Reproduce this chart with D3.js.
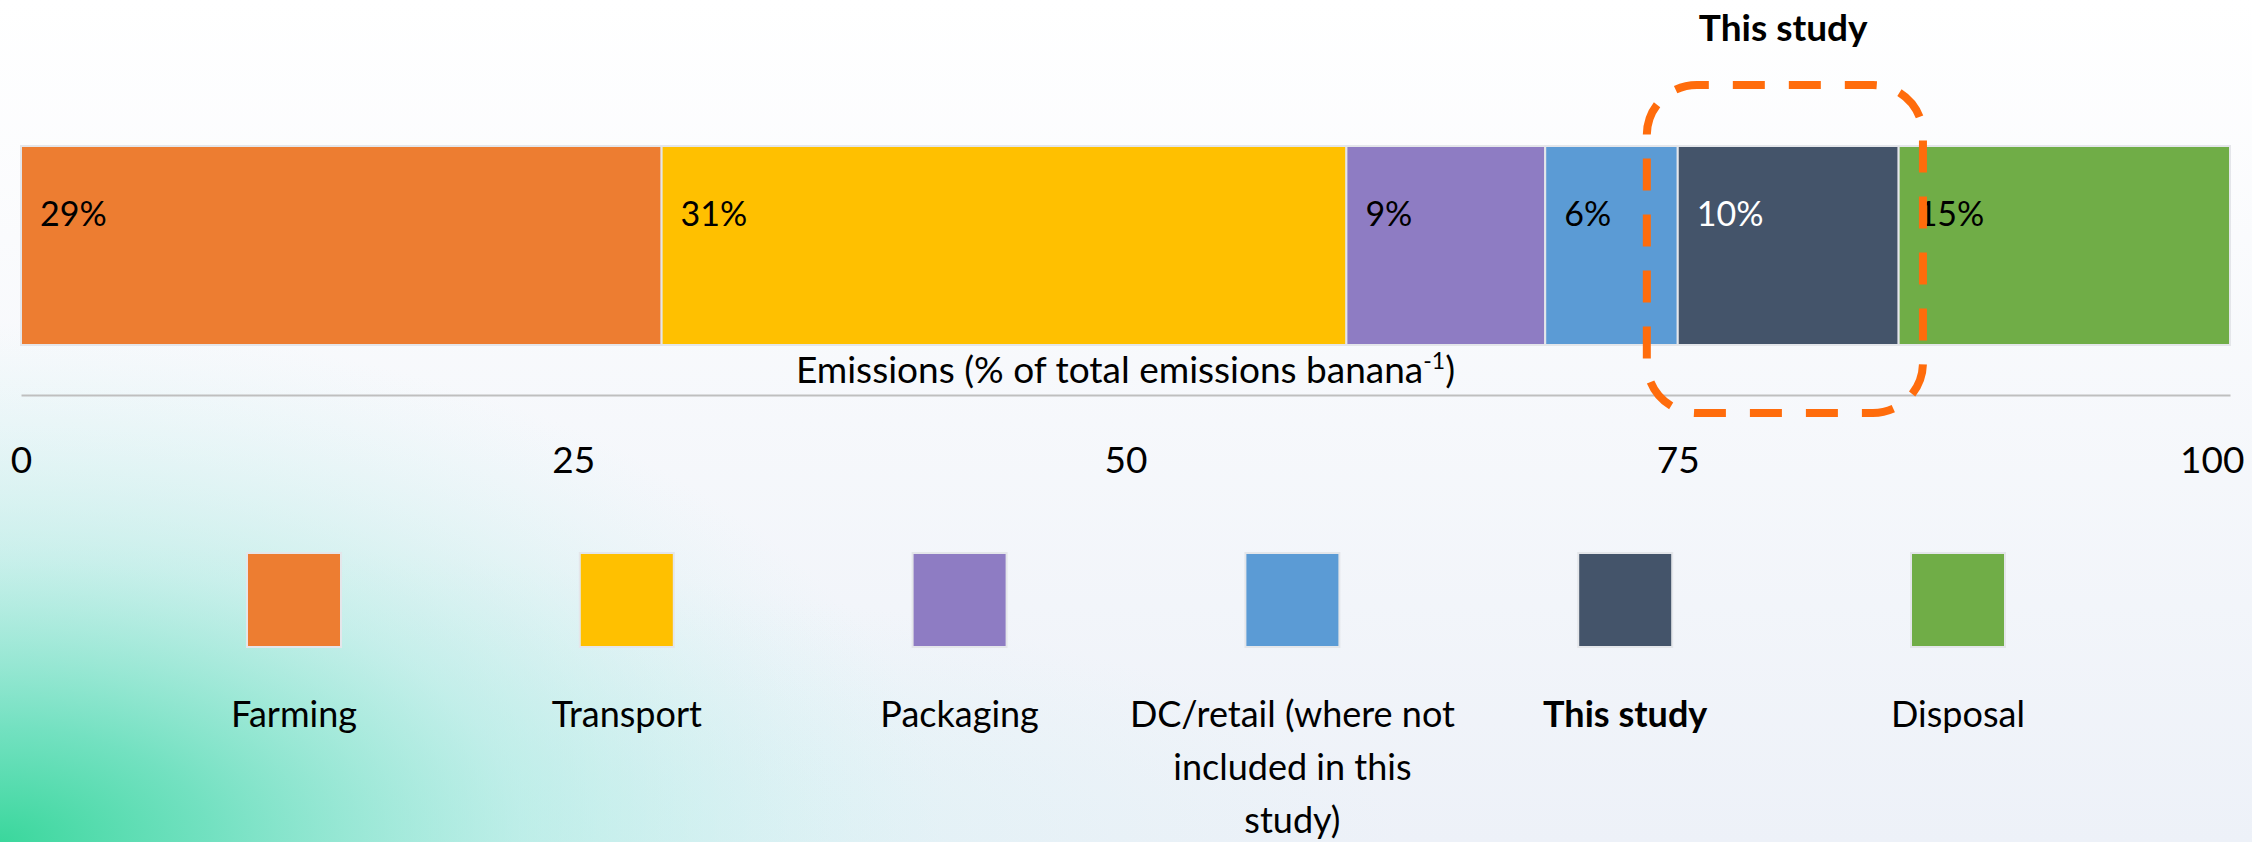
<!DOCTYPE html>
<meta charset="utf-8">
<script src="https://d3js.org/d3.v7.min.js"></script>
<style>
  body { margin: 0; background: #fff; }
  svg text { font-family: 'Lato', 'Open Sans', sans-serif; fill: #000; }
</style>
<body>
<div id="chart"></div>
<script>

// data
var categories = ["Farming", "Transport", "Packaging", "DC/retail", "This study", "Disposal"];
var shares = [29, 31, 9, 6, 10, 15];
var colors = ["#ED7D31", "#FFC000", "#8E7CC3", "#5B9BD5", "#44546A", "#70AD47"];
var labelColors = ["#000", "#000", "#000", "#000", "#fff", "#000"];
var legendLines = [["Farming"], ["Transport"], ["Packaging"],
  ["DC/retail (where not", "included in this", "study)"], ["This study"], ["Disposal"]];
var tickValues = [0, 25, 50, 75, 100];
var studyBox = [73.6, 86.1];   // dashed highlight, in axis units

var W = 2252, H = 842;

var svg = d3.select("#chart").append("svg")
    .attr("width", W)
    .attr("height", H);

// background: pale wash with a green glow in the bottom-left corner
var defs = svg.append("defs");
var lg = defs.append("linearGradient").attr("id", "bg").attr("x1", 0).attr("y1", 0).attr("x2", 0).attr("y2", 1);
lg.append("stop").attr("offset", "0%").attr("stop-color", "#ffffff");
lg.append("stop").attr("offset", "100%").attr("stop-color", "#edf1f8");
var rg = defs.append("radialGradient").attr("id", "glow");
rg.append("stop").attr("offset", "0%").attr("stop-color", "#3ad79c").attr("stop-opacity", 1);
rg.append("stop").attr("offset", "22%").attr("stop-color", "#68dfbb").attr("stop-opacity", 0.9);
rg.append("stop").attr("offset", "55%").attr("stop-color", "#a8ebdf").attr("stop-opacity", 0.55);
rg.append("stop").attr("offset", "100%").attr("stop-color", "#d2f2f3").attr("stop-opacity", 0);
var rg2 = defs.append("radialGradient").attr("id", "glow2");
rg2.append("stop").attr("offset", "0%").attr("stop-color", "#bff0ee").attr("stop-opacity", 0.95);
rg2.append("stop").attr("offset", "100%").attr("stop-color", "#d8f2f4").attr("stop-opacity", 0);

svg.append("rect").attr("width", W).attr("height", H).attr("fill", "url(#bg)");
svg.append("rect").attr("x", -1400).attr("y", H - 300).attr("width", 2800).attr("height", 600).attr("fill", "url(#glow2)");
svg.append("rect").attr("x", -950).attr("y", H - 520).attr("width", 1900).attr("height", 1040).attr("fill", "url(#glow)");

// scales
var x = d3.scaleLinear().domain([0, 100]).range([21, 2230]);
var barTop = 146, barH = 199;

var starts = d3.cumsum([0].concat(shares)).slice(0, shares.length);
var segs = categories.map(function(c, i) {
  return {name: c, v: shares[i], x0: starts[i], color: colors[i], lab: labelColors[i]};
});

// stacked bar
svg.selectAll("rect.seg")
  .data(segs)
  .enter().append("rect")
    .attr("class", "seg")
    .attr("x", function(d) { return x(d.x0); })
    .attr("y", barTop)
    .attr("width", function(d) { return x(d.x0 + d.v) - x(d.x0); })
    .attr("height", barH)
    .attr("fill", function(d) { return d.color; })
    .attr("stroke", "#e4e6ea")
    .attr("stroke-width", 2);

svg.selectAll("text.val")
  .data(segs)
  .enter().append("text")
    .attr("class", "val")
    .attr("x", function(d) { return x(d.x0) + 19; })
    .attr("y", barTop + 80)
    .style("font-size", "34px")
    .style("fill", function(d) { return d.lab; })
    .text(function(d) { return d.v + "%"; });

// axis title
var t = svg.append("text")
    .attr("x", (x(0) + x(100)) / 2)
    .attr("y", 383)
    .attr("text-anchor", "middle")
    .style("font-size", "37px");
t.append("tspan").text("Emissions (% of total emissions banana");
t.append("tspan").attr("dy", -14).style("font-size", "23px").text("-1");
t.append("tspan").attr("dy", 14).text(")");

// axis
var axis = svg.append("g")
    .attr("transform", "translate(0,395)")
    .call(d3.axisBottom(x).tickValues(tickValues).tickSize(0).tickPadding(52));
axis.select(".domain").attr("stroke", "#bfbfbf").attr("stroke-width", 2);
axis.selectAll("text")
    .style("font-size", "37px")
    .style("font-family", "Lato, 'Open Sans', sans-serif")
    .attr("fill", "#000");
axis.selectAll(".tick").filter(function(d) { return d === 100; })
    .select("text").attr("text-anchor", "end").attr("dx", 14);

// dashed highlight around "This study"
svg.append("rect")
    .attr("x", x(studyBox[0]))
    .attr("y", 85)
    .attr("width", x(studyBox[1]) - x(studyBox[0]))
    .attr("height", 328)
    .attr("rx", 50)
    .attr("fill", "none")
    .attr("stroke", "#ff6c0c")
    .attr("stroke-width", 8)
    .attr("stroke-dasharray", "32 24")
    .attr("stroke-dashoffset", 20);

svg.append("text")
    .attr("x", x(starts[4] + shares[4] / 2) - 5)
    .attr("y", 41)
    .attr("text-anchor", "middle")
    .style("font-size", "37px")
    .style("font-weight", "bold")
    .text("This study");

// legend
var lx = d3.scalePoint().domain(categories).range([294, 1958]);
var leg = svg.selectAll("g.leg")
  .data(segs)
  .enter().append("g")
    .attr("class", "leg")
    .attr("transform", function(d) { return "translate(" + lx(d.name) + ",0)"; });

leg.append("rect")
    .attr("x", -47)
    .attr("y", 553)
    .attr("width", 94)
    .attr("height", 94)
    .attr("fill", function(d) { return d.color; })
    .attr("stroke", "#e4e6ea")
    .attr("stroke-width", 2);

leg.each(function(d, i) {
  var g = d3.select(this);
  legendLines[i].forEach(function(line, j) {
    g.append("text")
      .attr("x", 0)
      .attr("y", 727 + j * 53)
      .attr("text-anchor", "middle")
      .style("font-size", "36px")
      .style("font-weight", d.name === "This study" ? "bold" : "normal")
      .text(line);
  });
});

</script>
</body>
